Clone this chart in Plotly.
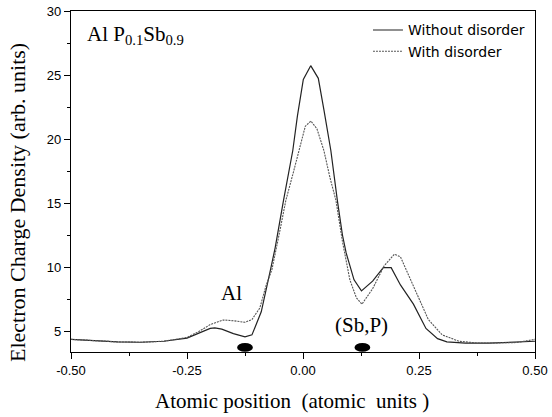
import plotly.graph_objects as go

# Without disorder (solid)
x_without = [-0.5, -0.45, -0.4, -0.35, -0.3, -0.25, -0.225, -0.2, -0.19, -0.175, -0.15, -0.125,
             -0.11, -0.1, -0.09, -0.07, -0.06, -0.042, -0.022, -0.012, 0.0007, 0.0166, 0.033, 0.045,
             0.06, 0.074, 0.085, 0.093, 0.1, 0.11, 0.126, 0.15, 0.173, 0.19, 0.21, 0.238, 0.265,
             0.29, 0.31, 0.35, 0.4, 0.45, 0.5]
y_without = [4.35, 4.25, 4.15, 4.12, 4.2, 4.45, 4.8, 5.2, 5.25, 5.15, 4.8, 4.55,
             4.7, 5.6, 6.5, 9.8, 11.5, 15.2, 19.1, 21.8, 24.66, 25.73, 24.74, 22.3,
             19.1, 15.2, 12.5, 11.1, 10.2, 9.0, 8.13, 8.9, 9.95, 9.95, 8.6, 7.1, 5.2,
             4.4, 4.15, 4.05, 4.05, 4.1, 4.2]

# With disorder (dotted)
x_with = [-0.5, -0.45, -0.4, -0.35, -0.3, -0.25, -0.225, -0.2, -0.172, -0.15, -0.125, -0.11,
          -0.093, -0.08, -0.067, -0.05, -0.037, -0.02, -0.008, 0.005, 0.017, 0.03, 0.045,
          0.058, 0.071, 0.085, 0.101, 0.115, 0.127, 0.15, 0.175, 0.197, 0.21, 0.238, 0.27,
          0.3, 0.336, 0.38, 0.42, 0.46, 0.5]
y_with = [4.35, 4.25, 4.15, 4.12, 4.2, 4.5, 4.95, 5.5, 5.86, 5.8, 5.68, 5.9,
          6.8, 8.5, 9.8, 12.8, 15.2, 17.5, 19.1, 21.0, 21.4, 20.8, 19.1,
          17.0, 15.2, 12.0, 9.0, 7.6, 7.1, 8.3, 10.1, 11.0, 10.8, 8.5, 5.9,
          4.7, 4.2, 4.05, 4.05, 4.1, 4.35]

atom_sites = [-0.125, 0.128]
atom_y = 3.72
x_ticks = [-0.5, -0.25, 0.0, 0.25, 0.5]
x_ticklabels = ["-0.50", "-0.25", "0.00", "0.25", "0.50"]
y_ticks = [5, 10, 15, 20, 25, 30]

serif = "Liberation Serif"
sans = "Liberation Sans"

fig = go.Figure()
fig.add_trace(go.Scatter(x=x_without, y=y_without, mode="lines", name="Without disorder",
                         line=dict(color="#222222", width=1.2)))
fig.add_trace(go.Scatter(x=x_with, y=y_with, mode="lines", name="With disorder",
                         line=dict(color="#555555", width=1.1, dash="2px,1px")))

for xs in atom_sites:
    fig.add_shape(type="circle", xref="x", yref="y",
                  x0=xs - 0.017, x1=xs + 0.017, y0=atom_y - 0.35, y1=atom_y + 0.35,
                  fillcolor="black", line=dict(color="black", width=0), layer="above")

fig.add_annotation(x=0.03, y=0.93, xref="paper", yref="paper", xanchor="left", yanchor="middle",
                   text="Al P<sub>0.1</sub>Sb<sub>0.9</sub>", showarrow=False,
                   font=dict(family=serif, size=21, color="black"))
fig.add_annotation(x=-0.155, y=8.0, xref="x", yref="y", text="Al", showarrow=False,
                   font=dict(family=serif, size=21, color="black"))
fig.add_annotation(x=0.127, y=5.5, xref="x", yref="y", text="(Sb,P)", showarrow=False,
                   font=dict(family=serif, size=21, color="black"))

fig.add_annotation(x=0.5, y=0, xref="paper", yref="paper", xshift=-11, yshift=-49, yanchor="middle",
                   text="Atomic position  (atomic  units )", showarrow=False,
                   font=dict(family=serif, size=21, color="black"))
fig.add_annotation(x=0, y=0.437, xref="paper", yref="paper", xshift=-53, xanchor="center",
                   text="Electron Charge Density (arb. units)", textangle=-90, showarrow=False,
                   font=dict(family=serif, size=22, color="black"))

fig.update_layout(
    width=552, height=417,
    autosize=False,
    margin=dict(l=71, r=17, t=11, b=65, autoexpand=False),
    paper_bgcolor="white", plot_bgcolor="white",
    showlegend=True,
    legend=dict(x=0.64, y=0.99, xanchor="left", yanchor="top", bgcolor="rgba(0,0,0,0)",
                font=dict(family="DejaVu Sans", size=14, color="black"), tracegroupgap=0,
                itemwidth=30),
    xaxis=dict(range=[-0.5, 0.5], tickvals=x_ticks, ticktext=x_ticklabels, automargin=False,
               ticks="outside", ticklen=6, tickcolor="black", tickwidth=1,
               showline=True, linecolor="black", linewidth=1.3, mirror=True,
               showgrid=False, zeroline=False,
               tickfont=dict(family=sans, size=13, color="black"),
               minor=dict(dtick=0.125, ticks="outside", ticklen=3, tickcolor="black", showgrid=False)),
    yaxis=dict(range=[3.36, 30], tickvals=y_ticks, automargin=False,
               ticks="outside", ticklen=6, tickcolor="black", tickwidth=1,
               showline=True, linecolor="black", linewidth=1.3, mirror=True,
               showgrid=False, zeroline=False,
               tickfont=dict(family=sans, size=13, color="black"),
               minor=dict(dtick=2.5, tick0=0, ticks="outside", ticklen=3, tickcolor="black", showgrid=False)),
)

fig.write_html("out.html", config={"displayModeBar": False, "responsive": False},
               post_script="document.body.style.margin='0';")
